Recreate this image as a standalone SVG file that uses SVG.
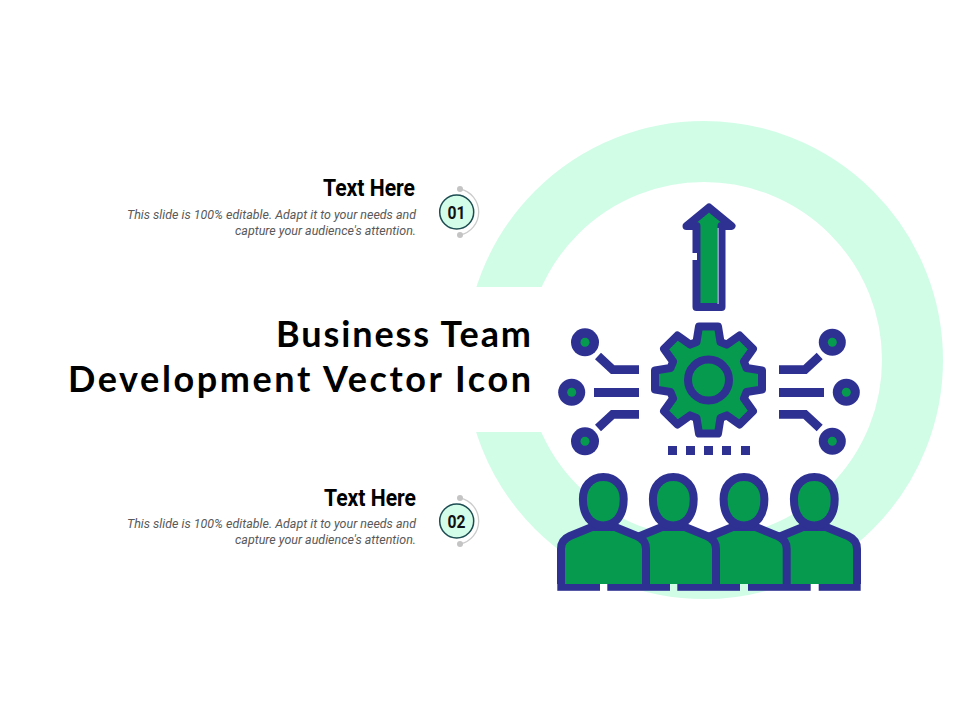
<svg xmlns="http://www.w3.org/2000/svg" xmlns:xlink="http://www.w3.org/1999/xlink" width="960" height="720" viewBox="0 0 960 720">
<style>
.nv{stroke:#2e3192;stroke-width:8;stroke-linejoin:round;stroke-linecap:butt;fill:#069a4e}
.ln{stroke:#2e3192;stroke-width:8.8;fill:none;stroke-linejoin:miter}
.nb{fill:#2e3192}
.gn{fill:#069a4e}
.title{font-family:"Lato","Liberation Sans",sans-serif;font-weight:700;font-size:36px;fill:#000;text-anchor:end}
.hd{font-family:"Roboto","Liberation Sans",sans-serif;font-weight:700;font-size:23.5px;fill:#000;text-anchor:end}
.bd{font-family:"Roboto","Liberation Sans",sans-serif;font-style:italic;font-size:13px;fill:#595959;text-anchor:end}
.num{font-family:"Roboto","Liberation Sans",sans-serif;font-weight:700;font-size:19px;fill:#111;text-anchor:middle}
.bc{fill:#d4fde9;stroke:#1d4d52;stroke-width:1.5}
.arc{fill:none;stroke:#ccc;stroke-width:1.3}
.dot{fill:#c4c4c4}
</style>
<defs>
<g id="person">
<path class="nv" d="M561,584V549Q561,540 570,536L592,527H615L637,536Q646,540 646,549V584"/>
<path class="nv" d="M603.300,477C616,477 623.700,487 623.700,499C623.700,516 615,525.500 603.300,525.500C591.600,525.500 582.900,516 582.900,499C582.900,487 590.600,477 603.300,477Z"/>
</g>
</defs>
<rect width="960" height="720" fill="#fff"/>
<g id="ring">
<circle cx="704" cy="360" r="208.500" fill="none" stroke="#d1fde7" stroke-width="61"/>
<rect x="440" y="287" width="103" height="145" fill="#fff"/>
</g>
<g id="title">
<text class="title" x="531" y="347" textLength="255" lengthAdjust="spacing">Business Team</text>
<text class="title" x="531" y="392" textLength="463" lengthAdjust="spacing">Development Vector Icon</text>
</g>
<g id="item-01">
<text class="hd" x="415" y="196" textLength="92" lengthAdjust="spacingAndGlyphs">Text Here</text>
<text class="bd" x="416" y="219" textLength="289" lengthAdjust="spacingAndGlyphs">This slide is 100% editable. Adapt it to your needs and</text>
<text class="bd" x="416" y="235" textLength="181" lengthAdjust="spacingAndGlyphs">capture your audience's attention.</text>
<path class="arc" d="M460,189A23.500,23.500 0 0 1 460,235"/>
<circle class="dot" cx="460" cy="189" r="3"/>
<circle class="dot" cx="460" cy="235" r="3"/>
<circle class="bc" cx="456.700" cy="212" r="17"/>
<text class="num" x="456.500" y="218.500" textLength="18" lengthAdjust="spacingAndGlyphs">01</text>
</g>
<g id="item-02">
<text class="hd" x="416" y="506" textLength="92" lengthAdjust="spacingAndGlyphs">Text Here</text>
<text class="bd" x="416" y="528" textLength="289" lengthAdjust="spacingAndGlyphs">This slide is 100% editable. Adapt it to your needs and</text>
<text class="bd" x="416" y="544" textLength="181" lengthAdjust="spacingAndGlyphs">capture your audience's attention.</text>
<path class="arc" d="M460,498A23.500,23.500 0 0 1 460,544"/>
<circle class="dot" cx="460" cy="498" r="3"/>
<circle class="dot" cx="460" cy="544" r="3"/>
<circle class="bc" cx="456.700" cy="521" r="17"/>
<text class="num" x="456.500" y="527.500" textLength="18" lengthAdjust="spacingAndGlyphs">02</text>
</g>
<g id="arrow">
<path class="nv" d="M696.500,307V226H686.500L709,207.500L731.500,226H721.500V307Z"/>
<rect x="717.500" y="228" width="1.200" height="76" fill="#b9c4e8"/>
<rect x="692" y="253" width="5" height="7" fill="#fff"/>
</g>
<g id="gear" transform="translate(708.500,380)">
<path class="nv" d="M-12,-38L-9.500,-53.500L9.500,-53.500L12,-38L18.400,-35.400L31.100,-44.500L44.500,-31.100L35.400,-18.400L38,-12L53.500,-9.500L53.500,9.500L38,12L35.400,18.400L44.500,31.100L31.100,44.500L18.400,35.400L12,38L9.500,53.500L-9.500,53.500L-12,38L-18.400,35.400L-31.100,44.500L-44.500,31.100L-35.400,18.400L-38,12L-53.500,9.500L-53.500,-9.500L-38,-12L-35.400,-18.400L-44.500,-31.100L-31.100,-44.500L-18.400,-35.400Z"/>
<circle class="nv" r="20.500"/>
</g>
<g id="connectors">
<path class="ln" d="M639,369.700H612.700L598,356"/>
<path class="ln" d="M639,392.500H594"/>
<path class="ln" d="M639,414.300H612.700L598,428"/>
<path class="ln" d="M779,369.700H805L819.700,356"/>
<path class="ln" d="M779,392.500H824"/>
<path class="ln" d="M779,414.300H805L819.700,428"/>
</g>
<g id="nodes-left">
<circle class="nb" cx="585" cy="342.300" r="14"/><circle class="gn" cx="585" cy="342.300" r="4.500"/>
<circle class="nb" cx="571.700" cy="392.300" r="13.500"/><circle class="gn" cx="571.700" cy="392.300" r="4.500"/>
<circle class="nb" cx="585" cy="441.300" r="14"/><circle class="gn" cx="585" cy="441.300" r="4.500"/>
</g>
<g id="nodes-right">
<circle class="nb" cx="832.300" cy="342.300" r="13.500"/><circle class="gn" cx="832.300" cy="342.300" r="4.500"/>
<circle class="nb" cx="846.300" cy="392.300" r="13.500"/><circle class="gn" cx="846.300" cy="392.300" r="4.500"/>
<circle class="nb" cx="832.300" cy="441.300" r="13.500"/><circle class="gn" cx="832.300" cy="441.300" r="4.500"/>
</g>
<g id="dots">
<rect class="nb" x="668" y="446" width="9" height="9"/>
<rect class="nb" x="686" y="446" width="9" height="9"/>
<rect class="nb" x="704" y="446" width="9" height="9"/>
<rect class="nb" x="722" y="446" width="9" height="9"/>
<rect class="nb" x="741" y="446" width="9" height="9"/>
</g>
<g id="person-4"><use xlink:href="#person" href="#person" x="211"/></g>
<g id="person-3"><use xlink:href="#person" href="#person" x="140.700"/></g>
<g id="person-2"><use xlink:href="#person" href="#person" x="70"/></g>
<g id="person-1"><use xlink:href="#person" href="#person"/></g>
<g id="base">
<rect class="nb" x="557.300" y="584" width="42.700" height="6.800"/>
<rect class="nb" x="607.300" y="584" width="62.700" height="6.800"/>
<rect class="nb" x="677.300" y="584" width="62.700" height="6.800"/>
<rect class="nb" x="748" y="584" width="62.700" height="6.800"/>
<rect class="nb" x="818.700" y="584" width="42" height="6.800"/>
</g>
</svg>
